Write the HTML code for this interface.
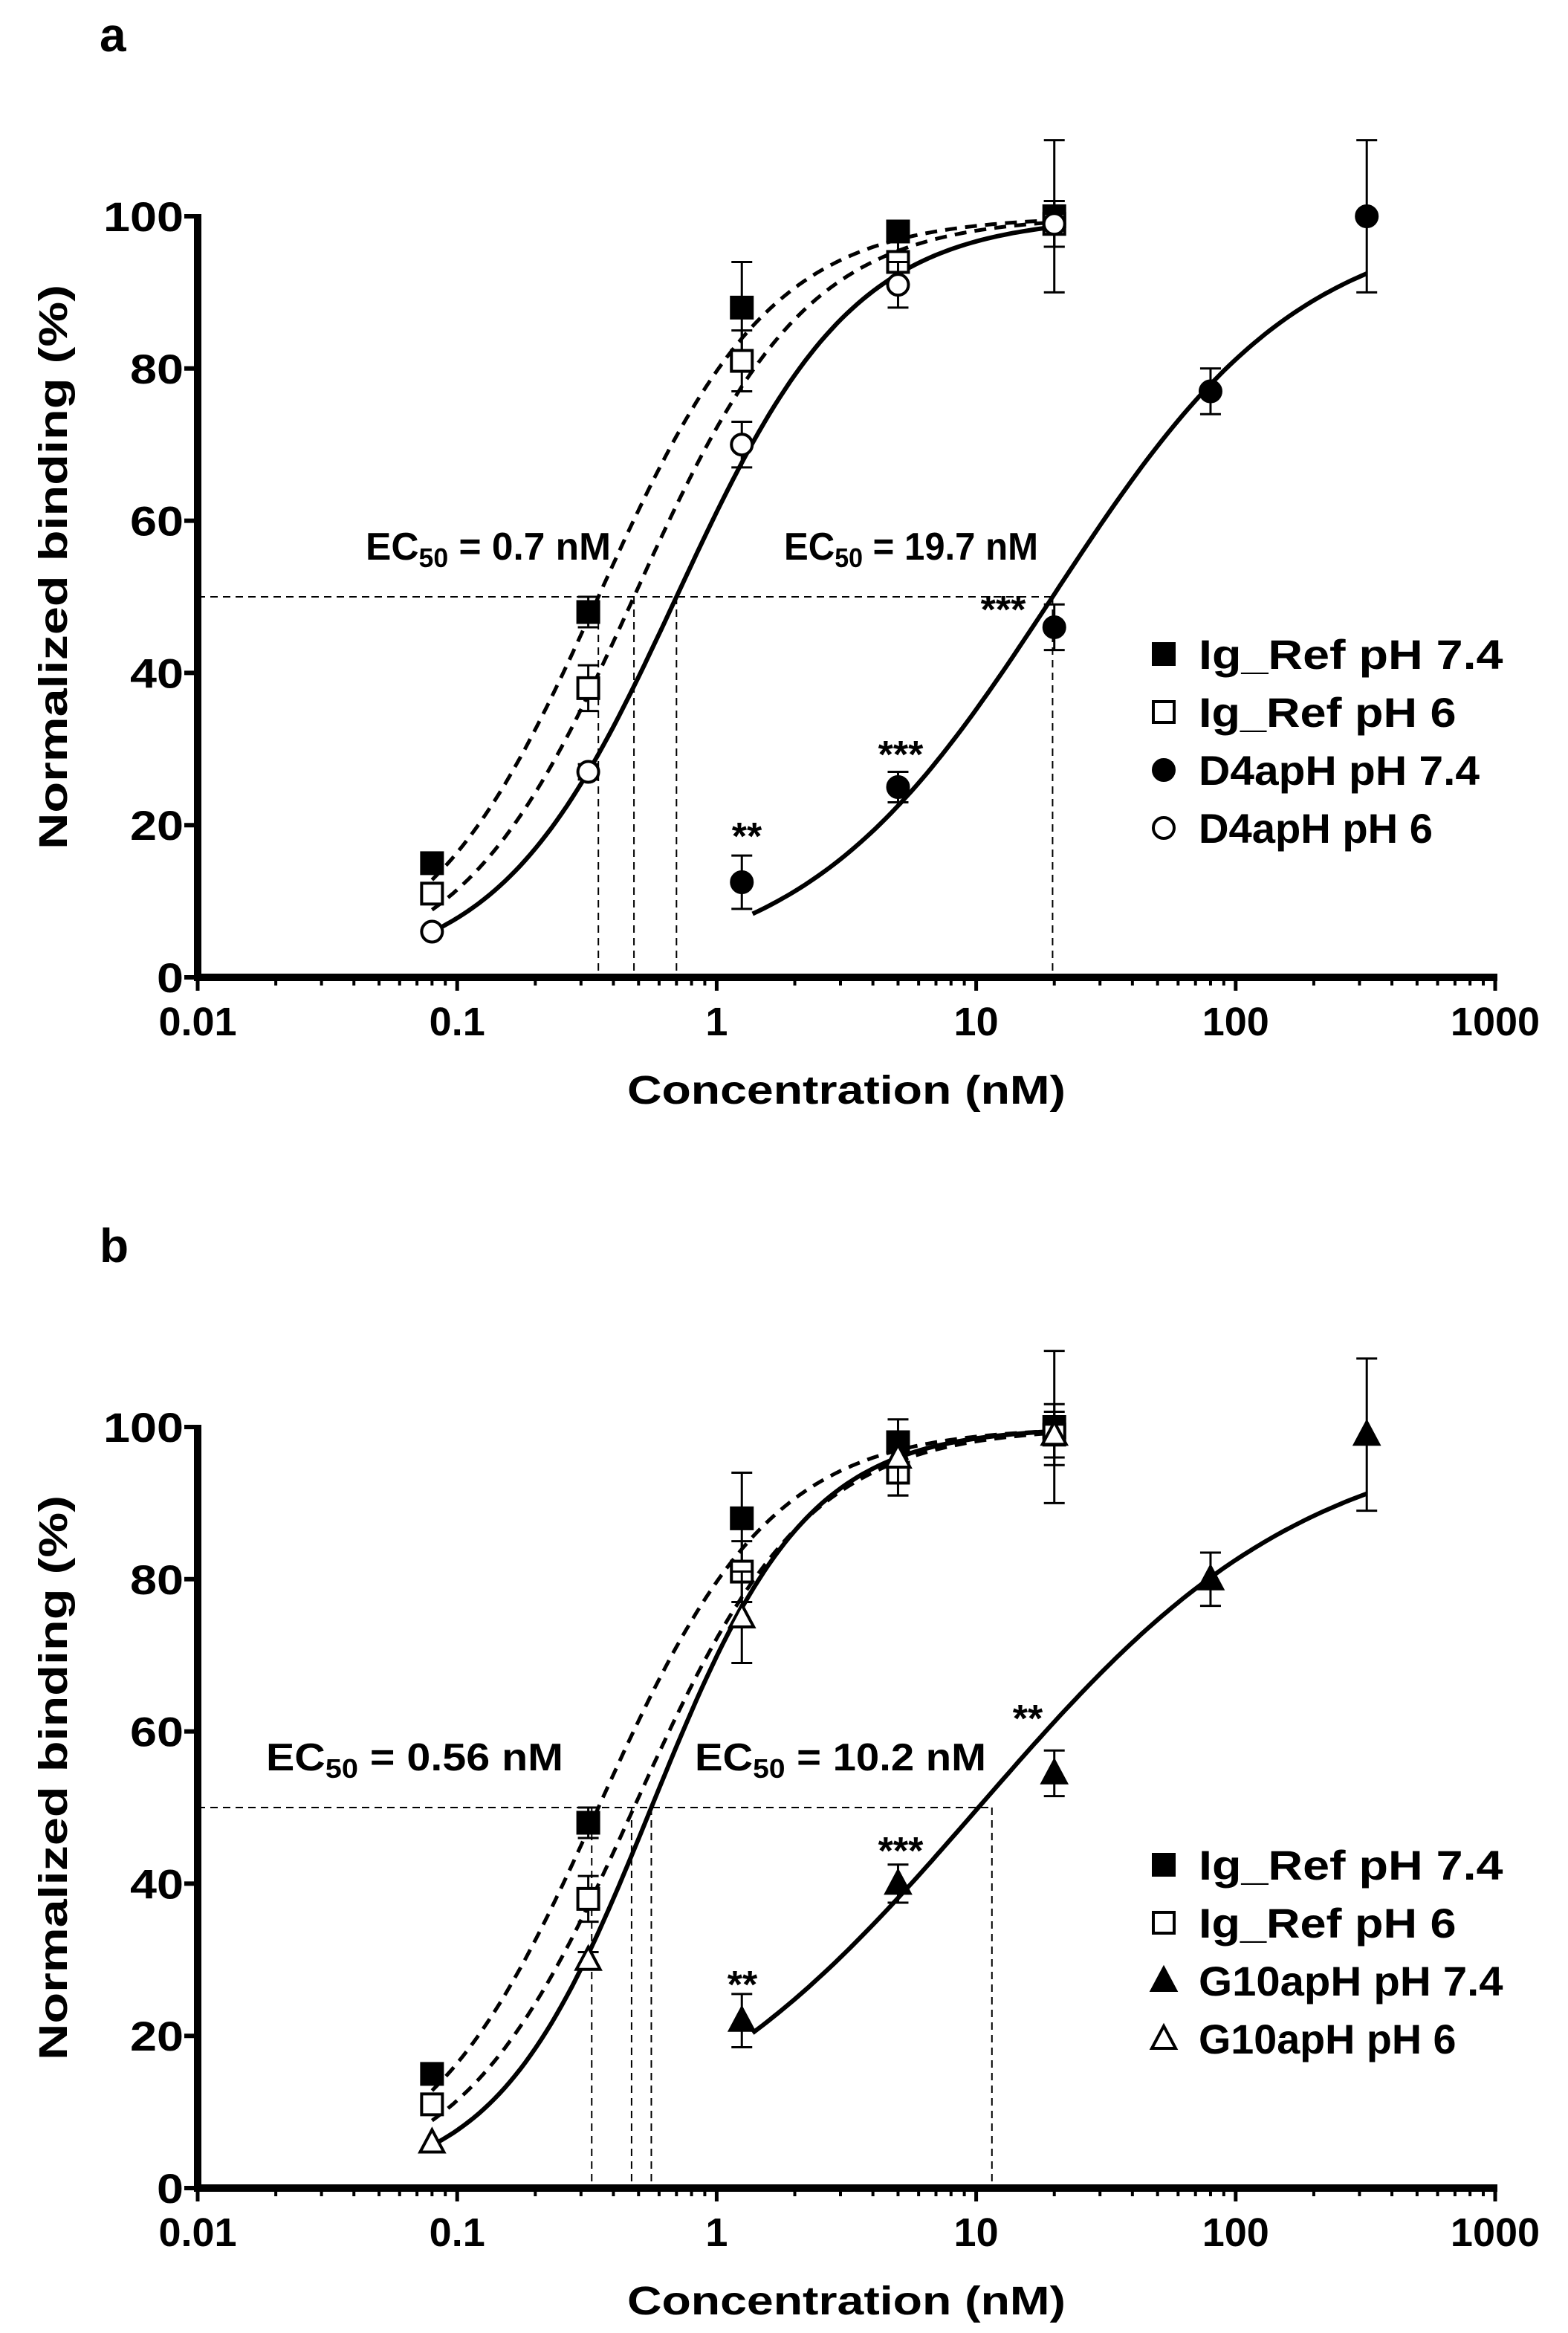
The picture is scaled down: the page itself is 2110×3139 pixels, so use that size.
<!DOCTYPE html>
<html><head><meta charset="utf-8"><style>
html,body{margin:0;padding:0;background:#fff}
svg{display:block}
text{font-family:"Liberation Sans",Arial,sans-serif;font-weight:bold;fill:#000}
</style></head><body>
<svg id="chart" width="2110" height="3139" viewBox="0 0 2110 3139" xmlns="http://www.w3.org/2000/svg"></svg>
<script>
// ---------- data ----------
const concs = [0.08, 0.32, 1.25, 5, 20];
const concsHigh = [1.25, 5, 20, 80, 320];
const igRef74 = [15, 48, 88, 98, 100];
const igRef74Err = [0, 2, 6, 1, 10];
const igRef6 = [11, 38, 81, 94, 99];
const igRef6Err = [0, 3, 4, 3, 3];
const d4pH74 = [12.5, 25, 46, 77, 100];
const d4pH74Err = [3.5, 2, 3, 3, 10];
const d4pH6 = [6, 27, 70, 91, 99];
const d4pH6Err = [0, 1, 3, 3, 3];
const g10pH74 = [22, 40, 54.5, 80, 99];
const g10pH74Err = [3.5, 2.5, 3, 3.5, 10];
const g10pH6 = [6, 30, 75, 96, 99];
const g10pH6Err = [0, 1, 6, 5, 4];
const fitA = {ig74:[0.35,1.3], ig6:[0.48,1.3], d6:[0.7,1.27], d74:[19.7,0.9]};
const fitB = {ig74:[0.35,1.3], ig6:[0.48,1.3], g6:[0.56,1.45], g74:[10.2,0.68]};
const ec50LinesA = [0.35, 0.48, 0.7, 19.7];
const ec50LinesB = [0.33, 0.47, 0.56, 11.5];
const xTicks = [0.01, 0.1, 1, 10, 100, 1000];
const xTickLabels = ["0.01","0.1","1","10","100","1000"];
const yTicks = [0, 20, 40, 60, 80, 100];

const NS = "http://www.w3.org/2000/svg";
const svg = document.getElementById('chart');
function mk(tag, attrs, parent){const e=document.createElementNS(NS,tag);for(const k in attrs)e.setAttribute(k,attrs[k]);(parent||svg).appendChild(e);return e;}

function panel(oy, letter, series, fits, ecLines, ecLabels, stars, legendNames){
  const g = mk('g',{});
  
  
  const X0=266, X1=2012, Y100=oy, Y0=oy+1024;
  const xs = v => X0 + (Math.log10(v)+2)/5*(X1-X0);
  const ys = v => Y0 - v/100*(Y0-Y100);
  const hill = (x,ec,h)=>100/(1+Math.pow(ec/x,h));

  const lt = mk('text',{x:134,y:oy-222,'font-size':64},g); lt.textContent=letter;
  
  

  const ecMax = ecLines[ecLines.length-1];
  const hl = mk('line',{x1:X0,y1:ys(50),x2:xs(ecMax),y2:ys(50),stroke:'#000','stroke-width':2,'stroke-dasharray':'10,7'},g);
  
  
  ecLines.forEach(v=>{
    const l=mk('line',{x1:xs(v),y1:ys(50),x2:xs(v),y2:Y0,stroke:'#000','stroke-width':2,'stroke-dasharray':'10,7'},g);
    
    
  });

  const ya = mk('line',{x1:X0,y1:Y100-3,x2:X0,y2:Y0+5,stroke:'#000','stroke-width':10},g);
  
  
  const xa = mk('line',{x1:X0-5,y1:Y0,x2:X1+3,y2:Y0,stroke:'#000','stroke-width':10},g);
  
  
  yTicks.forEach(v=>{
    mk('line',{x1:X0-18,y1:ys(v),x2:X0,y2:ys(v),stroke:'#000','stroke-width':6},g);
    const t=mk('text',{x:247,y:ys(v)+20,'font-size':56,'text-anchor':'end',textLength:String(v).length*36,lengthAdjust:'spacingAndGlyphs'},g);t.textContent=v;
    
    
  });
  xTicks.forEach((v,i)=>{
    mk('line',{x1:xs(v),y1:Y0,x2:xs(v),y2:Y0+18,stroke:'#000','stroke-width':5},g);
    if(i<xTicks.length-1){for(let m=2;m<10;m++){mk('line',{x1:xs(v*m),y1:Y0,x2:xs(v*m),y2:Y0+11,stroke:'#000','stroke-width':4},g);}}
    const t=mk('text',{x:xs(v),y:Y0+78,'font-size':54,'text-anchor':'middle'},g);t.textContent=xTickLabels[i];
    
    
  });
  const xt=mk('text',{x:1139,y:Y0+170,'font-size':54,'text-anchor':'middle',textLength:590,lengthAdjust:'spacingAndGlyphs'},g);
  xt.textContent='Concentration (nM)';
  
  
  const yt=mk('text',{x:0,y:0,'font-size':54,'text-anchor':'middle',textLength:760,lengthAdjust:'spacingAndGlyphs',transform:`translate(90,${oy+472}) rotate(-90)`},g);
  yt.textContent='Normalized binding (%)';
  
  

  series.forEach(s=>{
    const [ec,h]=fits[s.fit];
    const lo=s.xs[0]*(s.xs[0]>1?1.1:1), hi=s.xs[s.xs.length-1];
    let d='';
    for(let i=0;i<=120;i++){const lx=Math.log10(lo)+(Math.log10(hi)-Math.log10(lo))*i/120;const x=Math.pow(10,lx);d+=(i?'L':'M')+xs(x).toFixed(1)+','+ys(hill(x,ec,h)).toFixed(1);}
    const p=mk('path',{d,fill:'none',stroke:'#000','stroke-width':s.dash?5:6,'stroke-dasharray':s.dash?'16,11':'none'},g);
    
    
  });
  series.forEach(s=>{
    s.ys.forEach((v,i)=>{
      const cx=xs(s.xs[i]), cy=ys(v), e=s.err[i];
      if(e>0){
        mk('line',{x1:cx,y1:ys(v+e),x2:cx,y2:ys(v-e),stroke:'#000','stroke-width':3},g);
        mk('line',{x1:cx-14,y1:ys(v+e),x2:cx+14,y2:ys(v+e),stroke:'#000','stroke-width':3},g);
        mk('line',{x1:cx-14,y1:ys(v-e),x2:cx+14,y2:ys(v-e),stroke:'#000','stroke-width':3},g);
      }
      const m=marker(g,s.shape,s.filled,cx,cy);
      
      
    });
  });
  ecLabels.forEach(l=>{
    const t=mk('text',{x:l[0],y:oy+462,'font-size':52,textLength:l[2],lengthAdjust:'spacingAndGlyphs'},g);
    t.innerHTML='EC<tspan font-size="36" dy="10">50</tspan><tspan dy="-10"> = '+l[1]+'</tspan>';
    
    
  });
  stars.forEach(s=>{
    const t=mk('text',{x:s[0],y:s[1]+8,'font-size':52,'text-anchor':'middle'},g);t.textContent=s[2];
    
    
  });
  series.forEach((s,i)=>{
    const ly=oy+589+i*78;
    const it=mk('g',{},g);
    
    
    marker(it,s.shape,s.filled,1566,ly);
    const t=mk('text',{x:1613,y:ly+20,'font-size':56,textLength:legendNames[i].length*31.5,lengthAdjust:'spacingAndGlyphs'},it);
    t.textContent=legendNames[i];
  });
}

function marker(g,shape,filled,cx,cy){
  const f=filled?'#000':'#fff', st={stroke:'#000','stroke-width':4,fill:f};
  if(shape==='sq') return mk('rect',Object.assign({x:cx-14,y:cy-14,width:28,height:28},st),g);
  if(shape==='ci') return mk('circle',Object.assign({cx,cy,r:14},st),g);
  return mk('polygon',Object.assign({points:`${cx},${cy-17} ${cx+16},${cy+13} ${cx-16},${cy+13}`},st),g);
}

panel(291,'a',[
  {xs:concs,ys:igRef74,err:igRef74Err,shape:'sq',filled:true,fit:'ig74',dash:true},
  {xs:concs,ys:igRef6,err:igRef6Err,shape:'sq',filled:false,fit:'ig6',dash:true},
  {xs:concsHigh,ys:d4pH74,err:d4pH74Err,shape:'ci',filled:true,fit:'d74',dash:false},
  {xs:concs,ys:d4pH6,err:d4pH6Err,shape:'ci',filled:false,fit:'d6',dash:false}
],fitA,ec50LinesA,[[492,'0.7 nM',330],[1055,'19.7 nM',342]],
 [[1005,1135,'**'],[1212,1025,'***'],[1350,830,'***']],
 ['Ig_Ref pH 7.4','Ig_Ref pH 6','D4apH pH 7.4','D4apH pH 6']);

panel(1920,'b',[
  {xs:concs,ys:igRef74,err:igRef74Err,shape:'sq',filled:true,fit:'ig74',dash:true},
  {xs:concs,ys:igRef6,err:igRef6Err,shape:'sq',filled:false,fit:'ig6',dash:true},
  {xs:concsHigh,ys:g10pH74,err:g10pH74Err,shape:'tr',filled:true,fit:'g74',dash:false},
  {xs:concs,ys:g10pH6,err:g10pH6Err,shape:'tr',filled:false,fit:'g6',dash:false}
],fitB,ec50LinesB,[[358,'0.56 nM',400],[935,'10.2 nM',392]],
 [[999,2680,'**'],[1212,2500,'***'],[1383,2322,'**']],
 ['Ig_Ref pH 7.4','Ig_Ref pH 6','G10apH pH 7.4','G10apH pH 6']);
</script>
</body></html>
